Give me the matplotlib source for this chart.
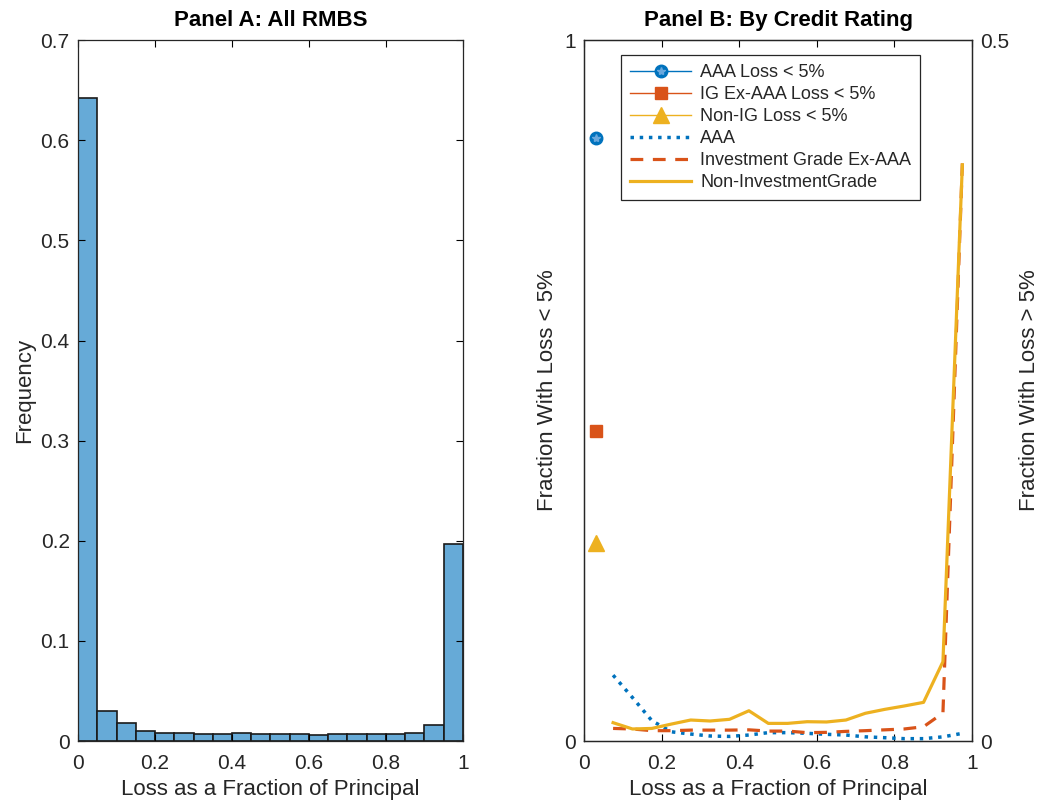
import matplotlib
matplotlib.use('Agg')
import matplotlib.pyplot as plt
import numpy as np

plt.rcParams['font.family'] = ['Liberation Sans', 'DejaVu Sans']

# Panel A: histogram of loss fractions (20 bins of width 0.05)
bin_edges = np.linspace(0, 1, 21)
freq = [0.642, 0.030, 0.0177, 0.010, 0.0077, 0.0077, 0.0067, 0.0067, 0.008, 0.0073,
        0.007, 0.0067, 0.0057, 0.0067, 0.0067, 0.0067, 0.0073, 0.008, 0.0157, 0.197]

# Panel B: fraction with loss < 5% (left axis)
marker_x = 0.03
aaa_low = 0.860
ig_low = 0.443
nonig_low = 0.282

# Panel B: loss distribution above 5% (right axis), at bin centres
loss_x = [0.075, 0.125, 0.175, 0.225, 0.275, 0.325, 0.375, 0.425, 0.475, 0.525,
          0.575, 0.625, 0.675, 0.725, 0.775, 0.825, 0.875, 0.925, 0.975]
aaa = [0.047, 0.031, 0.0145, 0.0066, 0.005, 0.0036, 0.0033, 0.0043, 0.006, 0.006,
       0.0055, 0.0048, 0.0043, 0.003, 0.0024, 0.0017, 0.0017, 0.003, 0.0055]
ig = [0.009, 0.0086, 0.0074, 0.0074, 0.0078, 0.0078, 0.0078, 0.008, 0.0071, 0.0071,
      0.006, 0.0062, 0.0069, 0.0074, 0.008, 0.0086, 0.0102, 0.020, 0.412]
nonig = [0.0131, 0.0086, 0.009, 0.0121, 0.015, 0.0143, 0.0155, 0.0216, 0.0126, 0.0126,
         0.0138, 0.0136, 0.015, 0.0198, 0.0226, 0.025, 0.0276, 0.0566, 0.411]

blue = '#0072BD'
orange = '#D95319'
yellow = '#EDB120'

fig = plt.figure(figsize=(10.46, 8.02), dpi=100)

def style_axes(ax):
    ax.tick_params(direction='in', top=True, labelsize=15, length=5, width=0.8, pad=6,
                   labelcolor='#262626')
    ax.tick_params(axis='x', pad=9)
    for s in ax.spines.values():
        s.set_linewidth(0.9)
        s.set_color('#262626')

# Panel A
ax1 = fig.add_axes([0.0746, 0.076, 0.368, 0.874])
ax1.bar(bin_edges[:-1], freq, width=0.05, align='edge', color='#66AAD7',
        edgecolor='#1a1a1a', linewidth=1.2)
ax1.set_xlim(0, 1)
ax1.set_ylim(0, 0.7)
ax1.set_xticks([0, 0.2, 0.4, 0.6, 0.8, 1])
ax1.set_xticklabels(['0', '0.2', '0.4', '0.6', '0.8', '1'])
ax1.set_yticks(np.arange(0, 0.71, 0.1))
ax1.set_yticklabels(['0', '0.1', '0.2', '0.3', '0.4', '0.5', '0.6', '0.7'])
ax1.tick_params(right=True)
style_axes(ax1)
ax1.set_title('Panel A: All RMBS', fontsize=16, fontweight='bold', pad=10)
ax1.set_xlabel('Loss as a Fraction of Principal', fontsize=16, color='#262626', labelpad=5)
ax1.set_ylabel('Frequency', fontsize=16, color='#262626')

# Panel B
ax2 = fig.add_axes([0.5583, 0.076, 0.371, 0.874])
ax3 = ax2.twinx()

h1, = ax2.plot([marker_x], [aaa_low], '-o', color=blue, markersize=9, lw=1)
h1s, = ax2.plot([marker_x], [aaa_low], '*', color='#6aa8dd', markersize=6, lw=1)
h2, = ax2.plot([marker_x], [ig_low], '-s', color=orange, markersize=8, lw=1)
h3, = ax2.plot([marker_x], [nonig_low], '-^', color=yellow, markersize=11, lw=1)

h4, = ax3.plot(loss_x, aaa, ':', color=blue, lw=2.5)
h5, = ax3.plot(loss_x, ig, '--', color=orange, lw=2.3, dashes=(4, 3))
h6, = ax3.plot(loss_x, nonig, '-', color=yellow, lw=2.3)

ax2.set_xlim(0, 1)
ax2.set_ylim(0, 1)
ax3.set_ylim(0, 0.5)
ax2.set_xticks([0, 0.2, 0.4, 0.6, 0.8, 1])
ax2.set_xticklabels(['0', '0.2', '0.4', '0.6', '0.8', '1'])
ax2.set_yticks([0, 1])
ax2.set_yticklabels(['0', '1'])
ax3.set_yticks([0, 0.5])
ax3.set_yticklabels(['0', '0.5'])
style_axes(ax2)
style_axes(ax3)
ax2.tick_params(axis='y', length=0)
ax3.tick_params(axis='y', length=0)
ax2.set_title('Panel B: By Credit Rating', fontsize=16, fontweight='bold', pad=10)
ax2.set_xlabel('Loss as a Fraction of Principal', fontsize=16, color='#262626', labelpad=5)
ax2.set_ylabel('Fraction With Loss < 5%', fontsize=16, color='#262626')
ax3.set_ylabel('Fraction With Loss > 5%', fontsize=16, color='#262626', labelpad=7)

leg = ax3.legend([(h1, h1s), h2, h3, h4, h5, h6],
                 ['AAA Loss < 5%', 'IG Ex-AAA Loss < 5%', 'Non-IG Loss < 5%',
                  'AAA', 'Investment Grade Ex-AAA', 'Non-InvestmentGrade'],
                 loc='upper left', bbox_to_anchor=(0.095, 0.979), fontsize=13,
                 frameon=True, fancybox=False, framealpha=1, edgecolor='#262626',
                 handlelength=3.4, handletextpad=0.5, labelspacing=0.28,
                 borderpad=0.5, borderaxespad=0)
leg.get_frame().set_linewidth(0.9)
for t in leg.get_texts():
    t.set_color('#262626')

fig.savefig('out.png', dpi=100)
